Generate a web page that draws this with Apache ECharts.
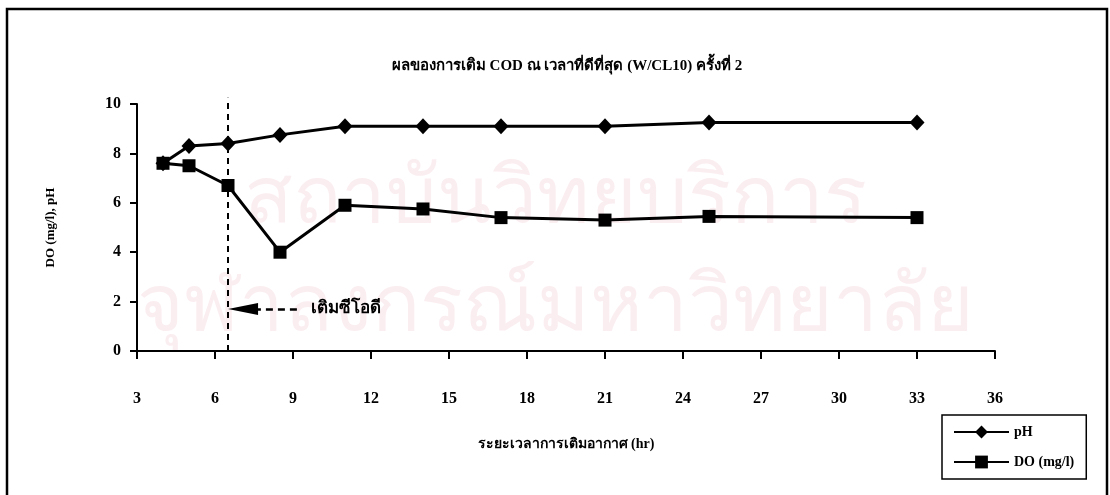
<!DOCTYPE html>
<html>
<head>
<meta charset="utf-8">
<script src="https://cdn.jsdelivr.net/npm/echarts@6/dist/echarts.min.js"></script>
<style>
  html, body { margin: 0; padding: 0; background: #fff; }
  #chart { width: 1110px; height: 495px; }
</style>
</head>
<body>
<div id="chart"></div>
<script>
// Aeration time (hr) and measured values
const hours = [4, 5, 6.5, 8.5, 11, 14, 17, 21, 25, 33];
const phValues = [7.6, 8.3, 8.4, 8.75, 9.1, 9.1, 9.1, 9.1, 9.25, 9.25];
const doValues = [7.6, 7.5, 6.7, 4.0, 5.9, 5.75, 5.4, 5.3, 5.45, 5.4];

// Axis ranges
const xTicks = { min: 3, max: 36, step: 3 };
const yTicks = { min: 0, max: 10, step: 2 };

// COD dosing annotation (data units)
const codDoseHour = 6.5;
const codLineTop = 10.25;
const arrowLevel = 1.7;
const arrowTailHour = 9.15;
const arrowHeadCenterHour = 7.08; // triangle centre, so its tip sits on the dosing line

const titleText = 'ผลของการเติม COD ณ เวลาที่ดีที่สุด (W/CL10) ครั้งที่ 2';
const xName = 'ระยะเวลาการเติมอากาศ (hr)';
const yName = 'DO (mg/l), pH';
const codLabel = 'เติมซีโอดี';
const seriesNames = ['pH', 'DO (mg/l)'];

const FONT = '"Liberation Serif", "Times New Roman", serif';
const INK = '#000';

const chart = echarts.init(document.getElementById('chart'));

const pairs = (ys) => hours.map((h, i) => [h, ys[i]]);

chart.setOption({
  backgroundColor: '#fff',
  animation: false,
  textStyle: { fontFamily: FONT, color: INK, fontWeight: 'bold' },
  graphic: [
    // outer frame
    {
      type: 'rect', silent: true,
      shape: { x: 7, y: 9, width: 1100, height: 500 },
      style: { fill: 'none', stroke: INK, lineWidth: 2.5 }
    },
    // watermark
    {
      type: 'text', silent: true, z: -1, left: 'center', top: 160,
      style: { text: 'สถาบันวิทยบริการ', font: '80px "Noto Sans", sans-serif', fill: '#fbeef1' }
    },
    {
      type: 'text', silent: true, z: -1, left: 'center', top: 268,
      style: { text: 'จุฬาลงกรณ์มหาวิทยาลัย', font: '80px "Noto Sans", sans-serif', fill: '#fbeef1' }
    },
    // title
    {
      type: 'text', silent: true, x: 567, y: 66,
      style: {
        text: titleText, fill: INK, align: 'center', verticalAlign: 'middle',
        font: 'bold 15px ' + FONT
      }
    }
  ],
  grid: { left: 137, right: 115, top: 104, bottom: 144, containLabel: false },
  legend: {
    orient: 'vertical',
    left: 942, top: 415,
    padding: [10, 12, 10, 11],
    itemWidth: 55, itemHeight: 16, itemGap: 16,
    borderColor: INK, borderWidth: 1.5,
    textStyle: { fontFamily: FONT, fontSize: 14, fontWeight: 'bold', color: INK },
    data: seriesNames
  },
  xAxis: {
    type: 'value',
    min: xTicks.min, max: xTicks.max, interval: xTicks.step,
    name: xName, nameLocation: 'middle', nameGap: 86,
    nameTextStyle: { fontFamily: FONT, fontSize: 14, fontWeight: 'bold', color: INK },
    axisLine: { show: true, lineStyle: { color: INK, width: 2 } },
    axisTick: { show: true, inside: false, length: 8, lineStyle: { color: INK, width: 2 } },
    axisLabel: { margin: 40, fontFamily: FONT, fontSize: 16, fontWeight: 'bold', color: INK },
    splitLine: { show: false }
  },
  yAxis: {
    type: 'value',
    min: yTicks.min, max: yTicks.max, interval: yTicks.step,
    name: yName, nameLocation: 'middle', nameGap: 80, nameRotate: 90,
    nameTextStyle: { fontFamily: FONT, fontSize: 13, fontWeight: 'bold', color: INK },
    axisLine: { show: true, lineStyle: { color: INK, width: 2 } },
    axisTick: { show: true, inside: false, length: 7, lineStyle: { color: INK, width: 2 } },
    axisLabel: { margin: 16, fontFamily: FONT, fontSize: 16, fontWeight: 'bold', color: INK },
    splitLine: { show: false }
  },
  series: [
    {
      name: seriesNames[0],
      type: 'line',
      data: pairs(phValues),
      symbol: 'diamond', symbolSize: [15, 16],
      lineStyle: { color: INK, width: 3 },
      itemStyle: { color: INK },
      clip: false,
      z: 3
    },
    {
      name: seriesNames[1],
      type: 'line',
      data: pairs(doValues),
      symbol: 'rect', symbolSize: 13,
      lineStyle: { color: INK, width: 3 },
      itemStyle: { color: INK },
      clip: false,
      z: 3,
      markLine: {
        silent: true,
        animation: false,
        data: [
          [
            {
              coord: [arrowTailHour, arrowLevel], symbol: 'none',
              label: {
                show: true, position: 'start', distance: 14, formatter: codLabel,
                fontFamily: FONT, fontSize: 17, fontWeight: 'bold', color: INK
              }
            },
            { coord: [arrowHeadCenterHour, arrowLevel], symbol: 'triangle', symbolSize: [12, 30] }
          ]
        ],
        lineStyle: { color: INK, width: 2.5, type: [7, 5] },
        label: { show: false }
      }
    },
    // dashed marker for the COD dosing time
    {
      name: 'cod-dose',
      type: 'line',
      data: [[codDoseHour, yTicks.min], [codDoseHour, codLineTop]],
      symbol: 'none',
      silent: true,
      clip: false,
      lineStyle: { color: INK, width: 2, type: [6, 5] },
      z: 2
    }
  ]
});
</script>
</body>
</html>
